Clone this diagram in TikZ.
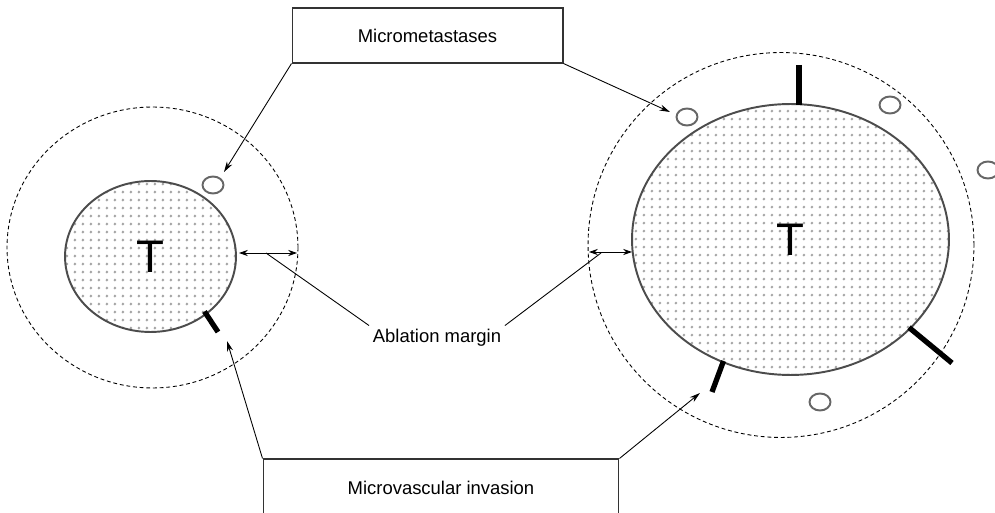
\documentclass[tikz,border=0pt]{standalone}
\usepackage{fontspec}
\setmainfont{Liberation Sans}
\usetikzlibrary{shapes.geometric,patterns.meta,arrows.meta}

% Trama de puntos para el tumor
\tikzdeclarepattern{
  name=puntos,
  type=uncolored,
  bounding box={(0pt,0pt) and (4.5pt,4.5pt)},
  tile size={(4.5pt,4.5pt)},
  code={\fill (2.25pt,2.25pt) circle (0.85pt);}
}

\begin{document}
\begin{tikzpicture}[x=0.02cm,y=-0.02cm,
    tumor/.style={ellipse,draw=black!70,line width=1.1pt,pattern=puntos,
      pattern color=black!35,inner sep=0pt,font=\fontsize{26}{30}\selectfont},
    nodulo/.style={ellipse,draw=black!60,line width=1.1pt,minimum width=0.42cm,
      minimum height=0.34cm,inner sep=0pt},
    margen/.style={dash pattern=on 2.2pt off 1.6pt,line width=0.5pt},
    caja/.style={draw=black!80,line width=0.6pt,font=\fontsize{10.5}{12}\selectfont},
    flecha/.style={-{Stealth[length=6pt,width=3.5pt]},line width=0.5pt},
    doble/.style={{Stealth[length=5pt,width=3.5pt]}-{Stealth[length=5pt,width=3.5pt]},line width=0.5pt},
    vaso/.style={line width=3pt}]
    \useasboundingbox (0,0) rectangle (995,513);
    \clip (0,0) rectangle (995,513);
    \fill[white] (0,0) rectangle (995,513);

    % Margenes de ablacion
    \draw[margen] (152.5,247.5) ellipse [x radius=2.91cm, y radius=2.81cm];
    \draw[margen] (781,245) ellipse [x radius=3.86cm, y radius=3.85cm];

    % Tumores
    \node[tumor,minimum width=3.42cm,minimum height=3.02cm] (tumI) at (150.5,256.5) {T};
    \node[tumor,minimum width=6.34cm,minimum height=5.42cm] (tumD) at (790.5,239.5) {T};

    % Invasion vascular
    \draw[vaso] (204.5,311.5) -- (218,332);
    \draw[vaso] (799,65) -- (799,105.5);
    \draw[vaso] (909,327.5) -- (952,363);
    \draw[vaso] (723.5,361) -- (712,392);

    % Micrometastasis
    \node[nodulo] (n1) at (213,185) {};
    \node[nodulo] (n2) at (687,117) {};
    \node[nodulo] (n3) at (890,105) {};
    \node[nodulo] (n4) at (988,170) {};
    \node[nodulo] (n5) at (820,402) {};

    % Etiquetas
    \node[caja,minimum width=5.42cm,minimum height=1.1cm] (meta) at (427.5,35.5) {Micrometastases};
    \node[caja,minimum width=7.12cm,minimum height=1.16cm] (inv) at (441,488) {Microvascular invasion};
    \node[font=\fontsize{10.5}{12}\selectfont,inner sep=2pt] (abl) at (437,338) {Ablation margin};

    % Puntas de flecha
    \coordinate (pMetI) at (224,172);
    \coordinate (pMetD) at (670,112);
    \coordinate (pInvI) at (227,341);
    \coordinate (pInvD) at (700,393);
    \coordinate (aI1) at (239,253);
    \coordinate (aI2) at (297,253);
    \coordinate (aD1) at (589,252);
    \coordinate (aD2) at (632,252);
    \coordinate (mI) at (266,253);
    \coordinate (mD) at (601,253);

    % Flechas
    \draw[flecha] (meta.south west) -- (pMetI);
    \draw[flecha] (meta.south east) -- (pMetD);
    \draw[flecha] (inv.north west) -- (pInvI);
    \draw[flecha] (inv.north east) -- (pInvD);
    \draw[doble] (aI1) -- (aI2);
    \draw[doble] (aD1) -- (aD2);
    \draw[line width=0.5pt] (mI) -- (abl.north west);
    \draw[line width=0.5pt] (mD) -- (abl.north east);
\end{tikzpicture}
\end{document}
